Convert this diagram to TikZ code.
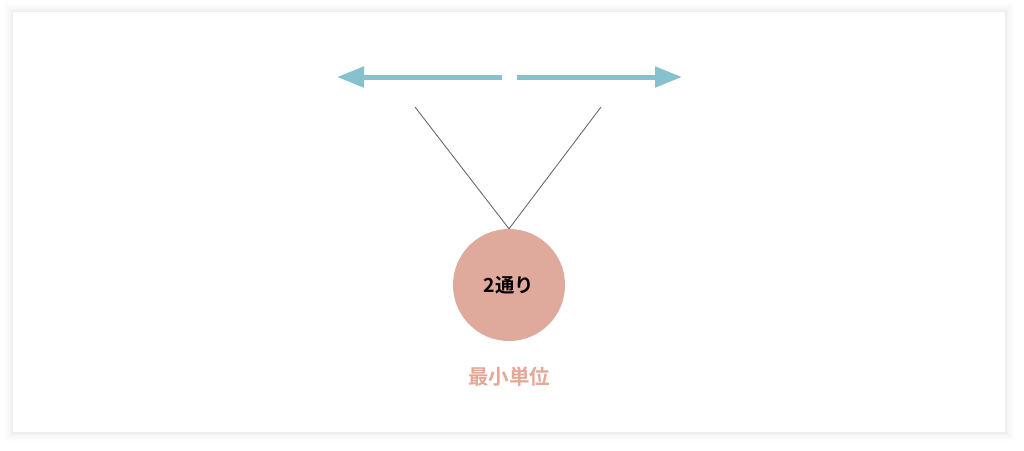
\documentclass[tikz,border=0pt]{standalone}
\usepackage{fontspec}
\newfontfamily\cjk{Noto Sans CJK JP}[BoldFont={* Bold}]
\usetikzlibrary{arrows.meta}
\definecolor{teal}{HTML}{86C2CE}
\definecolor{salmon}{HTML}{DFA99B}
\definecolor{labelcol}{HTML}{E5A898}
\definecolor{linecol}{HTML}{6A6A6A}
\tikzstyle{unit}=[circle,fill=salmon,minimum size=112pt,inner sep=0pt,font=\cjk\bfseries\fontsize{19.4}{22}\selectfont]
\tikzstyle{caption}=[text=labelcol,font=\cjk\bfseries\fontsize{20.5}{24}\selectfont]
\tikzstyle{way}=[draw=teal,line width=5pt,-{Triangle[length=27pt,width=20pt]}]

\begin{document}
\begin{tikzpicture}[x=1pt,y=-1pt]
\useasboundingbox (0,0) rectangle (1024,450);
\fill[white] (0,0) rectangle (1024,450);
\foreach \d/\o in {9/0.008,7/0.01,5/0.012,3/0.015,1.5/0.02}
  \fill[black,opacity=\o] (13-\d,12-\d) rectangle (1005+\d,432+\d);
\fill[white] (13,12) rectangle (1005,432);

\node[unit] (u) at (509, 285) {2通り};
\node[caption] (cap) at (509, 377) {最小単位};

\coordinate (l) at (415, 107);
\coordinate (r) at (601, 107);

\coordinate (a1) at (502, 77);
\coordinate (a2) at (337, 77);
\coordinate (b1) at (517, 77);
\coordinate (b2) at (682, 77);

\draw[way] (a1) -- (a2);
\draw[way] (b1) -- (b2);

\draw[linecol,line width=0.9pt] (l) -- (u.north);
\draw[linecol,line width=0.9pt] (r) -- (u.north);

\end{tikzpicture}
\end{document}
